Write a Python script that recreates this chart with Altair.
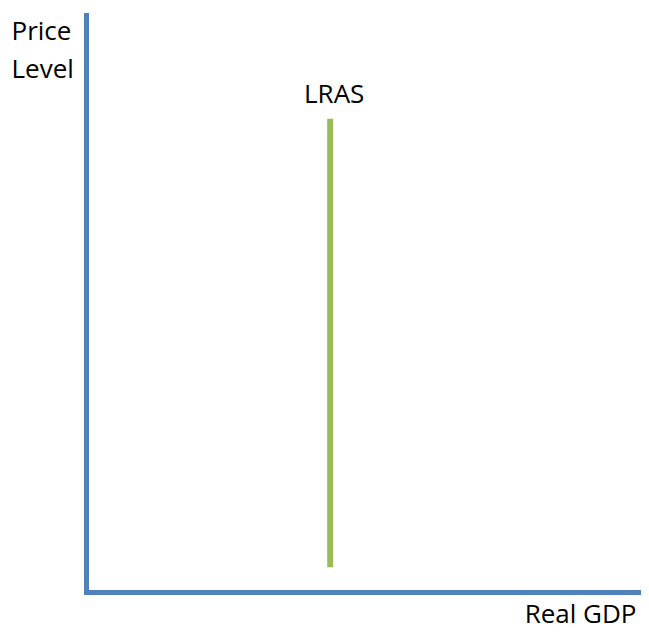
import altair as alt
import pandas as pd

# Conceptual data (arbitrary units on both axes, 0-100)
lras_x = [44]
lras_y_low = [4.3]
lras_y_high = [82]
lras_label = ["LRAS"]

x_title = "Real GDP"
y_title = ["Price", "Level"]

BLUE = "#4F81BD"
GREEN = "#9BBB59"
FONT = "Open Sans"

df = pd.DataFrame({"x": lras_x, "y": lras_y_low, "y2": lras_y_high, "label": lras_label})

x_enc = alt.X(
    "x:Q",
    scale=alt.Scale(domain=[0, 100], nice=False, zero=False),
    axis=alt.Axis(
        title=x_title, ticks=False, labels=False, grid=False,
        domainColor=BLUE, domainWidth=5, domainCap="square",
        titleFont=FONT, titleFontSize=26, titleFontWeight="normal", titleColor="#000000",
        titleAlign="right", titleBaseline="alphabetic", titleX=550, titleY=30,
    ),
)
y_enc = alt.Y(
    "y:Q",
    scale=alt.Scale(domain=[0, 100], nice=False, zero=False),
    axis=alt.Axis(
        title=y_title, ticks=False, labels=False, grid=False,
        domainColor=BLUE, domainWidth=5, domainCap="square",
        titleFont=FONT, titleFontSize=26, titleFontWeight="normal", titleColor="#000000",
        titleAngle=0, titleAlign="left", titleBaseline="alphabetic",
        titleX=-75, titleY=24, titleLineHeight=38,
    ),
)

rule = alt.Chart(df).mark_rule(color=GREEN, strokeWidth=6).encode(
    x=x_enc, y=y_enc, y2="y2:Q"
)

label = alt.Chart(df).mark_text(
    font=FONT, fontSize=26, color="#000000", baseline="alphabetic", align="center", dx=4, dy=-16
).encode(x="x:Q", y="y2:Q", text="label:N")

chart = (
    alt.layer(rule, label)
    .properties(
        width=555, height=577,
        padding={"left": 78, "top": 7, "right": 0, "bottom": 39},
        autosize=alt.AutoSizeParams(type="none"),
    )
    .configure_view(strokeWidth=0)
)

chart.save("out.html", embed_options={"renderer": "svg", "actions": False})
